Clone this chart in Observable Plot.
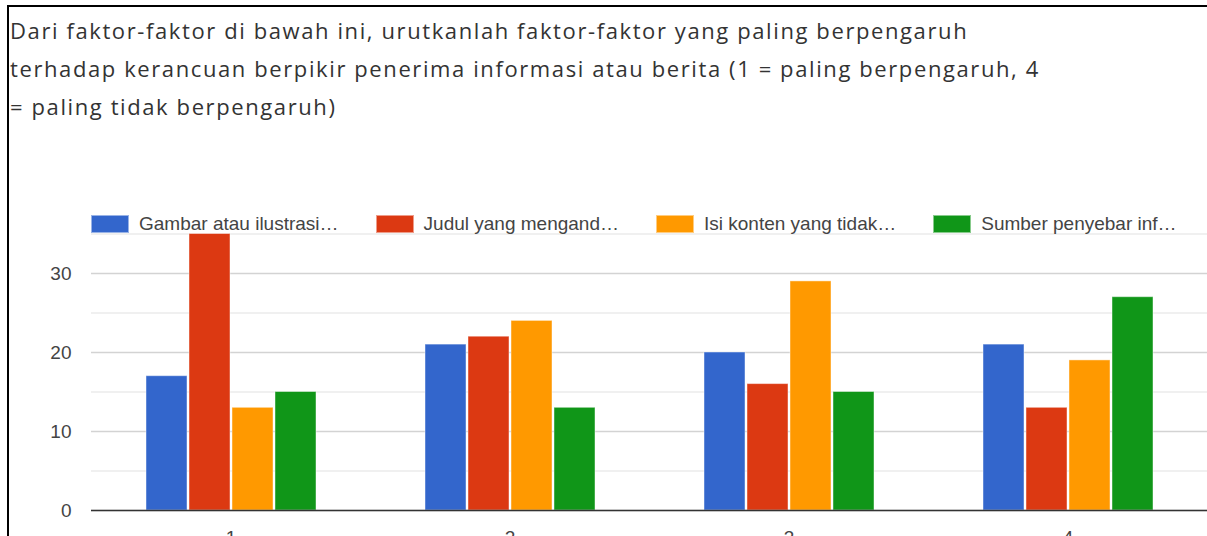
<!DOCTYPE html>
<html><head><meta charset="utf-8">
<script src="https://cdn.jsdelivr.net/npm/d3@7"></script>
<script src="https://cdn.jsdelivr.net/npm/@observablehq/plot@0.6"></script>
<style>
body{margin:0;background:#fff;}
#page{position:relative;width:1207px;height:536px;overflow:hidden;background:#fff;}
#frame{position:absolute;left:7px;top:5px;right:-10px;bottom:-10px;border-left:2px solid #000;border-top:2px solid #000;z-index:3;pointer-events:none;}
#title{position:absolute;left:10px;top:11px;font-family:"Open Sans";font-size:22px;letter-spacing:1.6px;line-height:38px;color:#333;white-space:nowrap;z-index:2;}
#legend{position:absolute;top:213px;left:91px;display:flex;gap:37px;font-family:Arial,"Liberation Sans",sans-serif;font-size:19px;color:#444;z-index:2;}
.item{display:flex;align-items:center;gap:10px;}
.sw{width:38px;height:18px;box-sizing:border-box;border:1px solid rgba(255,255,255,0.5);}
#chart{position:absolute;left:0;top:200px;}
</style></head>
<body><div id="page"><div id="frame"></div><div id="title"></div><div id="legend"></div><div id="chart"></div></div>
<script>
const titleLines = [
  "Dari faktor-faktor di bawah ini, urutkanlah faktor-faktor yang paling berpengaruh",
  "terhadap kerancuan berpikir penerima informasi atau berita (1 = paling berpengaruh, 4",
  "= paling tidak berpengaruh)"
];
const ranks = ["1","2","3","4"];
const series = ["Gambar atau ilustrasi…","Judul yang mengand…","Isi konten yang tidak…","Sumber penyebar inf…"];
const colors = ["#3366cc","#dc3912","#ff9900","#109618"];
const gambar = [17,21,20,21];
const judul  = [35,22,16,13];
const isi    = [13,24,29,19];
const sumber = [15,13,15,27];
const yTicks = [0,10,20,30];
const minorTicks = [5,15,25,35];

document.getElementById("title").innerHTML = titleLines.map(t=>`<div>${t}</div>`).join("");
document.getElementById("legend").innerHTML = series.map((s,i)=>
  `<div class="item"><div class="sw" style="background:${colors[i]}"></div><span>${s}</span></div>`).join("");

const valueSets = [gambar, judul, isi, sumber];
const data = [];
ranks.forEach((r,i)=>series.forEach((s,j)=>data.push({rank:r, series:s, value:valueSets[j][i]})));

const chart = Plot.plot({
  width:1207, height:360,
  marginLeft:91, marginRight:0, marginTop:33.5, marginBottom:50,
  fx:{domain:ranks, padding:0, label:null, axis:null},
  x:{domain:series, axis:null, paddingInner:0, paddingOuter:1.225},
  y:{domain:[0,35], axis:null},
  color:{domain:series, range:colors},
  style:{fontFamily:"Arial, 'Liberation Sans', sans-serif", fontSize:"19px", color:"#444", background:"white", overflow:"visible"},
  marks:[
    Plot.ruleY(minorTicks,{stroke:"#ebebeb", strokeWidth:1.5}),
    Plot.ruleY(yTicks,{stroke:"#d3d3d3", strokeWidth:1.5}),
    Plot.barY(data,{fx:"rank", x:"series", y:"value", fill:"series", insetLeft:1, insetRight:1, stroke:"white", strokeOpacity:0.45, strokeWidth:1}),
    Plot.ruleY([0],{stroke:"#333", strokeWidth:1.5}),
    Plot.axisY(yTicks,{tickSize:0, tickPadding:20, fontSize:19, fill:"#444", label:null}),
    Plot.axisFx({anchor:"bottom", tickSize:0, tickPadding:20, fontSize:19, fill:"#444", label:null})
  ]
});
document.getElementById("chart").appendChild(chart);
</script></body></html>
